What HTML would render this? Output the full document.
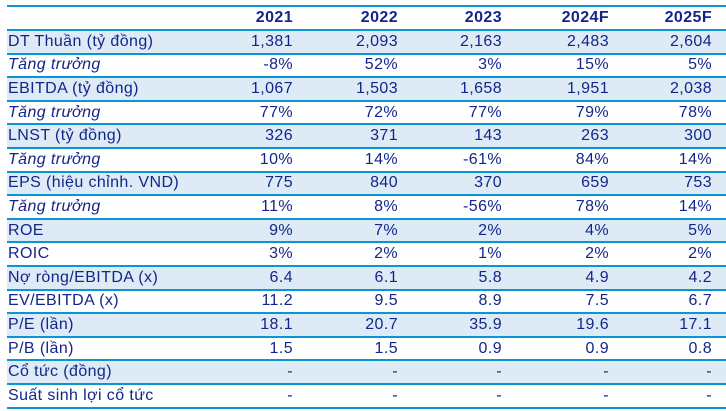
<!DOCTYPE html>
<html><head><meta charset="utf-8"><style>
body{margin:0;width:726px;height:411px;background:#fff;overflow:hidden;font-family:"Liberation Sans",sans-serif;color:#12268a}
table{position:absolute;left:7px;top:5px;width:719px;border-collapse:collapse;border-top:2px solid #0a96d4;table-layout:fixed}
td{height:21.6px;padding:0;font-size:16px;letter-spacing:0.4px;border-bottom:2px solid #0a96d4;text-align:right;white-space:nowrap;line-height:20px;overflow:visible}
td:first-child{text-align:left;padding-left:1px}
tr.b td{background:#deebf7}
tr.h td{font-weight:bold;height:22px}
tr.i td:first-child{font-style:italic}
td.cl{padding-right:14px}
</style></head><body>
<table>
<colgroup><col style="width:183px"><col style="width:103px"><col style="width:105px"><col style="width:104px"><col style="width:107px"><col style="width:117px"></colgroup>
<tr class="h"><td></td><td>2021</td><td>2022</td><td>2023</td><td>2024F</td><td class="cl">2025F</td></tr>
<tr class="b"><td>DT Thuần (tỷ đồng)</td><td>1,381</td><td>2,093</td><td>2,163</td><td>2,483</td><td class="cl">2,604</td></tr>
<tr class="i"><td>Tăng trưởng</td><td>-8%</td><td>52%</td><td>3%</td><td>15%</td><td class="cl">5%</td></tr>
<tr class="b"><td>EBITDA (tỷ đồng)</td><td>1,067</td><td>1,503</td><td>1,658</td><td>1,951</td><td class="cl">2,038</td></tr>
<tr class="i"><td>Tăng trưởng</td><td>77%</td><td>72%</td><td>77%</td><td>79%</td><td class="cl">78%</td></tr>
<tr class="b"><td>LNST (tỷ đồng)</td><td>326</td><td>371</td><td>143</td><td>263</td><td class="cl">300</td></tr>
<tr class="i"><td>Tăng trưởng</td><td>10%</td><td>14%</td><td>-61%</td><td>84%</td><td class="cl">14%</td></tr>
<tr class="b"><td>EPS (hiệu chỉnh. VND)</td><td>775</td><td>840</td><td>370</td><td>659</td><td class="cl">753</td></tr>
<tr class="i"><td>Tăng trưởng</td><td>11%</td><td>8%</td><td>-56%</td><td>78%</td><td class="cl">14%</td></tr>
<tr class="b"><td>ROE</td><td>9%</td><td>7%</td><td>2%</td><td>4%</td><td class="cl">5%</td></tr>
<tr><td>ROIC</td><td>3%</td><td>2%</td><td>1%</td><td>2%</td><td class="cl">2%</td></tr>
<tr class="b"><td>Nợ ròng/EBITDA (x)</td><td>6.4</td><td>6.1</td><td>5.8</td><td>4.9</td><td class="cl">4.2</td></tr>
<tr><td>EV/EBITDA (x)</td><td>11.2</td><td>9.5</td><td>8.9</td><td>7.5</td><td class="cl">6.7</td></tr>
<tr class="b"><td>P/E (lần)</td><td>18.1</td><td>20.7</td><td>35.9</td><td>19.6</td><td class="cl">17.1</td></tr>
<tr><td>P/B (lần)</td><td>1.5</td><td>1.5</td><td>0.9</td><td>0.9</td><td class="cl">0.8</td></tr>
<tr class="b"><td>Cổ tức (đồng)</td><td>-</td><td>-</td><td>-</td><td>-</td><td class="cl">-</td></tr>
<tr><td>Suất sinh lợi cổ tức</td><td>-</td><td>-</td><td>-</td><td>-</td><td class="cl">-</td></tr>
</table>
</body></html>
